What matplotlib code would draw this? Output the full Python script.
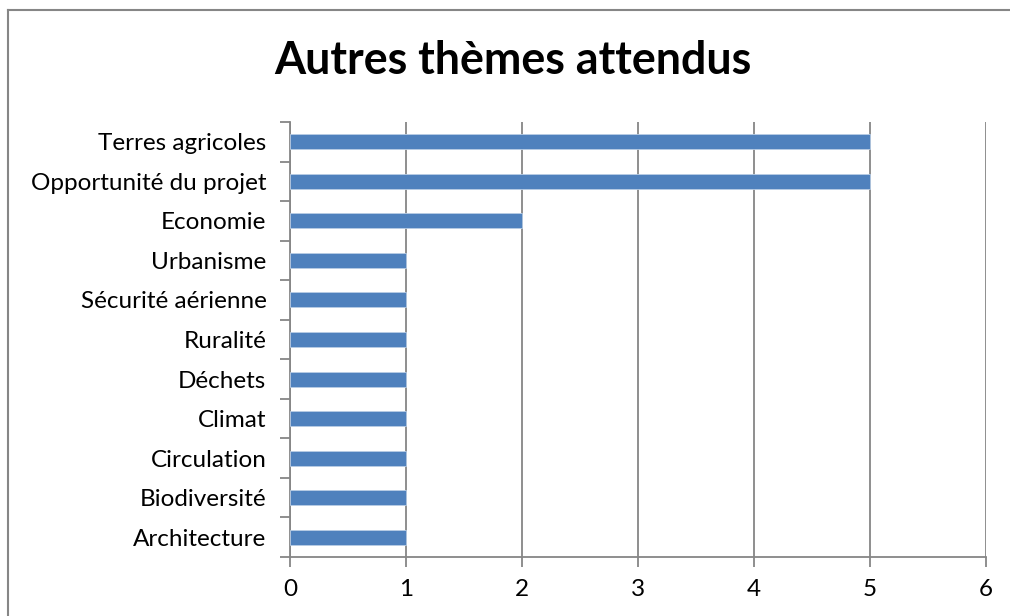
import matplotlib.pyplot as plt
from matplotlib.lines import Line2D

categories = ["Terres agricoles", "Opportunité du projet", "Economie", "Urbanisme",
              "Sécurité aérienne", "Ruralité", "Déchets", "Climat",
              "Circulation", "Biodiversité", "Architecture"]
values = [5, 5, 2, 1, 1, 1, 1, 1, 1, 1, 1]
x_ticks = [0, 1, 2, 3, 4, 5, 6]

plt.rcParams['font.family'] = ['Lato', 'DejaVu Sans']

W, H = 1010, 616
fig = plt.figure(figsize=(W / 100, H / 100), dpi=100)

# plot area in pixels
left, right, top, bottom = 290, 986, 122, 557
ax = fig.add_axes([left / W, 1 - bottom / H, (right - left) / W, (bottom - top) / H])

grey = '#868686'
n = len(categories)
pos = list(range(n - 1, -1, -1))
ax.barh(pos, values, height=0.38, color='#4F81BD', edgecolor='#B9CDE5', linewidth=0.6, zorder=3)

ax.set_xlim(0, 6)
ax.set_ylim(-0.5, n - 0.5)
ax.set_xticks(x_ticks)
ax.set_xticklabels([str(t) for t in x_ticks], fontsize=17.5)
ax.set_yticks(pos)
ax.set_yticklabels(categories, fontsize=17.5)
ax.set_yticks([i - 0.5 for i in range(n + 1)], minor=True)

ax.tick_params(axis='y', which='major', length=0, pad=17)
ax.tick_params(axis='y', which='minor', length=7, width=1.3, color=grey, direction='out')
ax.tick_params(axis='x', length=7, width=1.3, color=grey, direction='out', pad=9)

ax.grid(axis='x', color=grey, linewidth=1.3, zorder=0)
for s in ['top', 'right']:
    ax.spines[s].set_visible(False)
for s in ['left', 'bottom']:
    ax.spines[s].set_color(grey)
    ax.spines[s].set_linewidth(1.3)

fig.text(513 / W, 1 - 61 / H, "Autres thèmes attendus", fontsize=32.3, fontweight='bold',
         ha='center', va='center')

# outer chart frame (top and left edges only visible)
fy = 1 - 10 / H
fx = 8 / W
fig.add_artist(Line2D([fx, 1.0], [fy, fy], transform=fig.transFigure, color=grey, linewidth=1.5))
fig.add_artist(Line2D([fx, fx], [0, fy], transform=fig.transFigure, color=grey, linewidth=1.5))

fig.savefig('out.png', dpi=100)
